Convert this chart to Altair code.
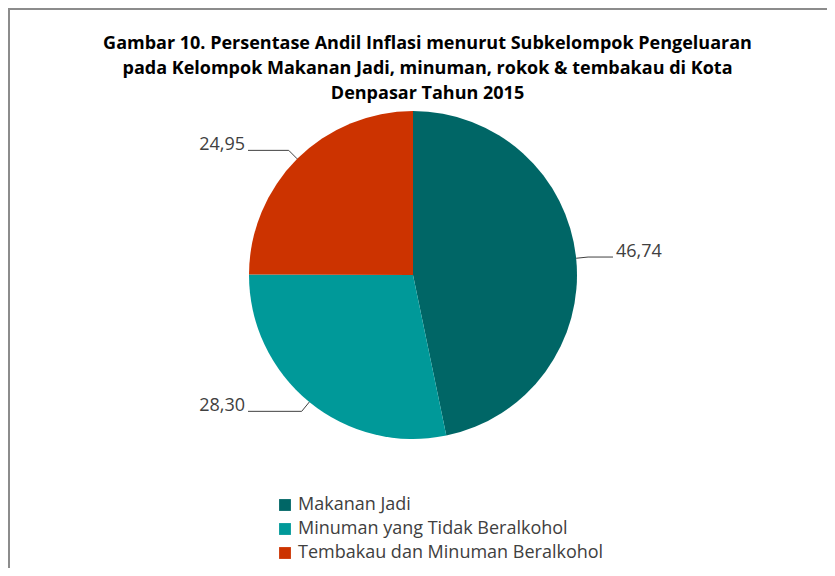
import altair as alt
import pandas as pd

# ---- data ----
categories = ["Makanan Jadi", "Minuman yang Tidak Beralkohol", "Tembakau dan Minuman Beralkohol"]
values = [46.74, 28.30, 24.95]
labels = ["46,74", "28,30", "24,95"]
order = [0, 1, 2]
colors = ["#006666", "#009999", "#CC3300"]
title_lines = [
    "Gambar 10. Persentase Andil Inflasi menurut Subkelompok Pengeluaran",
    "pada Kelompok Makanan Jadi, minuman, rokok & tembakau di Kota",
    "Denpasar Tahun 2015",
]

df = pd.DataFrame({"kategori": categories, "nilai": values, "label": labels, "urutan": order})

# ---- layout ----
W, H = 819, 560
CX, CY, R = 405, 267, 164
FONT = "Open Sans"
TXT = "#404040"

base = alt.Chart(df)

pie = base.mark_arc(radius=R).encode(
    theta=alt.Theta("nilai:Q", stack=True),
    order=alt.Order("urutan:Q"),
    color=alt.Color(
        "kategori:N",
        scale=alt.Scale(domain=categories, range=colors),
        legend=alt.Legend(
            title=None, orient="none", legendX=268, legendY=488,
            symbolType="square", symbolSize=140, symbolStrokeWidth=0,
            labelFontSize=18, labelFont=FONT, labelColor=TXT,
            labelLimit=500, rowPadding=6, labelOffset=4,
        ),
    ),
    x=alt.value(CX),
    y=alt.value(CY),
)

geo = (
    base.transform_window(cum="sum(nilai)", sort=[alt.SortField("urutan")], frame=[None, 0])
    .transform_joinaggregate(total="sum(nilai)")
    .transform_calculate(mid="2*PI*(datum.cum - datum.nilai/2)/datum.total")
    .transform_calculate(side="sin(datum.mid) >= 0 ? 1 : -1")
    .transform_calculate(ex=f"{CX} + {R}*sin(datum.mid)")
    .transform_calculate(ey=f"{CY} - {R}*cos(datum.mid)")
    .transform_calculate(px=f"{CX} + {R + 12}*sin(datum.mid)")
    .transform_calculate(py=f"{CY} - {R + 12}*cos(datum.mid)")
    .transform_calculate(qx=f"datum.side > 0 ? {CX + R + 36} : {CX - R - 1}")
)

lead1 = geo.mark_rule(color=TXT, strokeWidth=1).encode(
    x=alt.X("ex:Q", scale=None, axis=None),
    y=alt.Y("ey:Q", scale=None, axis=None),
    x2="px:Q",
    y2="py:Q",
)
lead2 = geo.mark_rule(color=TXT, strokeWidth=1).encode(
    x=alt.X("px:Q", scale=None, axis=None),
    y=alt.Y("py:Q", scale=None, axis=None),
    x2="qx:Q",
    y2="py:Q",
)
txt_r = geo.transform_filter("datum.side > 0").mark_text(
    align="left", baseline="alphabetic", dx=3, font=FONT, fontSize=18, color=TXT
).encode(
    x=alt.X("qx:Q", scale=None, axis=None),
    y=alt.Y("py:Q", scale=None, axis=None),
    text="label:N",
)
txt_l = geo.transform_filter("datum.side < 0").mark_text(
    align="right", baseline="alphabetic", dx=-3, font=FONT, fontSize=18, color=TXT
).encode(
    x=alt.X("qx:Q", scale=None, axis=None),
    y=alt.Y("py:Q", scale=None, axis=None),
    text="label:N",
)

frame_df = pd.DataFrame({"f": [0]})
top_rule = alt.Chart(frame_df).mark_rule(color="#8c8c8c", strokeWidth=2).encode(
    x=alt.value(0), x2=alt.value(W), y=alt.value(1)
)
left_rule = alt.Chart(frame_df).mark_rule(color="#8c8c8c", strokeWidth=2).encode(
    x=alt.value(1), y=alt.value(0), y2=alt.value(H)
)

chart = (
    alt.layer(pie, lead1, lead2, txt_r, txt_l, top_rule, left_rule)
    .properties(
        width=W,
        height=H,
        padding=0,
        autosize=alt.AutoSizeParams(type="none"),
        title=alt.Title(
            text=title_lines, font=FONT, fontSize=18, fontWeight="bold", color="#000000",
            anchor="middle", frame="group", offset=-96, lineHeight=25, dx=10,
        ),
    )
    .configure_view(stroke=None)
    .configure(background="white")
)

chart.save("out.html", embed_options={"renderer": "svg", "actions": False})
